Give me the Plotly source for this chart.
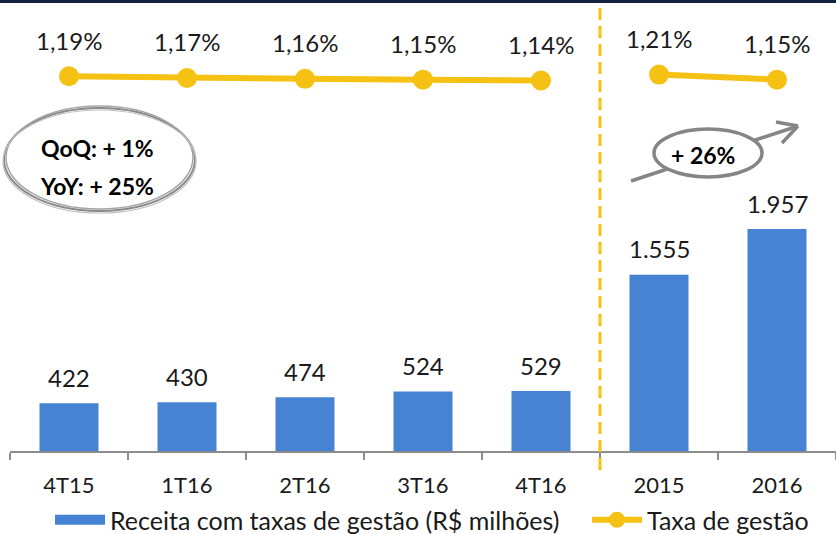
import plotly.graph_objects as go

categories = ["4T15", "1T16", "2T16", "3T16", "4T16", "2015", "2016"]
receita = [422, 430, 474, 524, 529, 1555, 1957]
taxa_trimestral_cats = ["4T15", "1T16", "2T16", "3T16", "4T16"]
taxa_trimestral = [1.19, 1.17, 1.16, 1.15, 1.14]
taxa_anual_cats = ["2015", "2016"]
taxa_anual = [1.21, 1.15]

BAR_NAME = "Receita com taxas de gestão (R$ milhões)"
LINE_NAME = "Taxa de gestão"

BAR_COLOR = "#4684D3"
LINE_COLOR = "#F5C213"
TEXT = "#1a1a1a"
GREY = "#858585"
FONT = "Lato"

W, H = 836, 534
L, R, T, B = 10, 0, 20, 83
PW, PH = W - L - R, H - T - B


def px(x):
    return (x - L) / PW


def py(y):
    return (H - B - y) / PH


def fmt_int(v):
    return f"{v:,}".replace(",", ".")


def fmt_pct(v):
    return f"{v:.2f}".replace(".", ",") + "%"


def cat_pos(c):
    return categories.index(c)


fig = go.Figure()
fig.add_trace(go.Bar(
    x=categories, y=receita, name=BAR_NAME, showlegend=False,
    marker=dict(color=BAR_COLOR, line=dict(width=0)), yaxis="y",
))
# legend swatch for the bars (wide rectangle like the original)
fig.add_trace(go.Scatter(
    x=[None], y=[None], name=BAR_NAME, mode="lines", legendwidth=472,
    line=dict(color=BAR_COLOR, width=15), yaxis="y",
))
fig.add_trace(go.Scatter(
    x=taxa_trimestral_cats, y=taxa_trimestral, name=LINE_NAME,
    mode="lines+markers", line=dict(color=LINE_COLOR, width=6),
    marker=dict(color=LINE_COLOR, size=20), yaxis="y2",
))
fig.add_trace(go.Scatter(
    x=taxa_anual_cats, y=taxa_anual, name=LINE_NAME, showlegend=False,
    mode="lines+markers", line=dict(color=LINE_COLOR, width=6),
    marker=dict(color=LINE_COLOR, size=20), yaxis="y2",
))

annotations = []
for c, v in zip(categories, receita):
    annotations.append(dict(x=cat_pos(c), y=v, xref="x", yref="y", text=fmt_int(v),
                            showarrow=False, yshift=26, xanchor="center", yanchor="middle",
                            font=dict(family=FONT, size=24, color=TEXT)))
for c, v in zip(taxa_trimestral_cats + taxa_anual_cats, taxa_trimestral + taxa_anual):
    annotations.append(dict(x=cat_pos(c), y=v, xref="x", yref="y2", text=fmt_pct(v),
                            showarrow=False, yshift=36, xanchor="center", yanchor="middle",
                            font=dict(family=FONT, size=24, color=TEXT)))

bold = dict(family=FONT, size=23, color="#000")
annotations += [
    dict(x=px(97), y=py(148), xref="paper", yref="paper", text="<b>QoQ: + 1%</b>",
         showarrow=False, xanchor="center", yanchor="middle", font=bold),
    dict(x=px(97), y=py(186), xref="paper", yref="paper", text="<b>YoY: + 25%</b>",
         showarrow=False, xanchor="center", yanchor="middle", font=bold),
    dict(x=px(703), y=py(155), xref="paper", yref="paper", text="<b>+ 26%</b>",
         showarrow=False, xanchor="center", yanchor="middle", font=bold),
]

shapes = [
    # top navy band
    dict(type="rect", xref="paper", yref="paper", x0=-0.05, x1=1.05, y0=py(3), y1=py(-2),
         fillcolor="#12233F", line=dict(width=0), layer="above"),
    # separator
    dict(type="line", xref="paper", yref="paper", x0=px(600), x1=px(600), y0=py(470), y1=py(8),
         line=dict(color=LINE_COLOR, width=3, dash="12px,6px")),
    # left sketchy ellipse
    dict(type="circle", xref="paper", yref="paper", x0=px(4), x1=px(195), y0=py(211), y1=py(108),
         line=dict(color="#8a8a8a", width=2)),
    dict(type="circle", xref="paper", yref="paper", x0=px(6), x1=px(193), y0=py(209), y1=py(106),
         line=dict(color="#a5a5a5", width=1.5)),
    dict(type="circle", xref="paper", yref="paper", x0=px(3), x1=px(196), y0=py(213), y1=py(110),
         line=dict(color="#c0c0c0", width=1.2)),
    # arrow
    dict(type="line", xref="paper", yref="paper", x0=px(631), y0=py(181), x1=px(798), y1=py(126),
         line=dict(color=GREY, width=3.5)),
    dict(type="line", xref="paper", yref="paper", x0=px(776), y0=py(122), x1=px(798), y1=py(126),
         line=dict(color=GREY, width=3.5)),
    dict(type="line", xref="paper", yref="paper", x0=px(782), y0=py(143), x1=px(798), y1=py(126),
         line=dict(color=GREY, width=3.5)),
    # right ellipse
    dict(type="circle", xref="paper", yref="paper", x0=px(654), x1=px(762), y0=py(177), y1=py(129),
         fillcolor="white", line=dict(color=GREY, width=3.5)),
]

fig.update_layout(
    width=W, height=H, margin=dict(l=L, r=R, t=T, b=B, autoexpand=False),
    paper_bgcolor="white", plot_bgcolor="white",
    bargap=0.5,
    font=dict(family=FONT, size=22, color=TEXT),
    xaxis=dict(type="category", categoryorder="array", categoryarray=categories,
               range=[-0.5, len(categories) - 0.5], automargin=False,
               showline=True, linecolor="#8c8c8c", linewidth=1.5,
               ticks="outside", tickson="boundaries", ticklen=7, tickcolor="#8c8c8c",
               tickwidth=1.5, ticklabelstandoff=14, showgrid=False, tickangle=0,
               tickfont=dict(family=FONT, size=22, color=TEXT)),
    yaxis=dict(range=[0, 3800], visible=False),
    yaxis2=dict(range=[-3.218, 1.852], overlaying="y", visible=False),
    showlegend=True,
    legend=dict(orientation="h", x=px(50), xanchor="left",
                yref="container", y=1 - 520 / H, yanchor="middle",
                font=dict(family=FONT, size=25, color=TEXT), itemwidth=50,
                bgcolor="rgba(0,0,0,0)"),
    annotations=annotations, shapes=shapes,
)

fig.write_html("out.html", config={"displayModeBar": False},
               post_script="document.body.style.margin='0';")
